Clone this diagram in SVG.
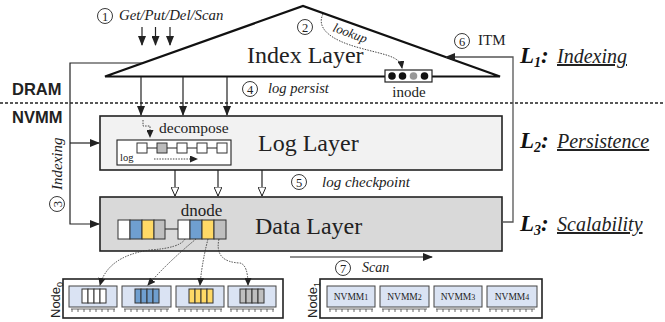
<svg xmlns="http://www.w3.org/2000/svg" width="665" height="322" viewBox="0 0 665 322">
<style>
  .serif { font-family: "Liberation Serif", "Times New Roman", serif; fill: #222; }
  .it { font-style: italic; }
  .sans { font-family: "Liberation Sans", Arial, sans-serif; fill: #222; }
  .big { font-size: 24px; }
  .circ { fill: none; stroke: #222; stroke-width: 0.9; }
  .num { font-family: "Liberation Serif", serif; font-size: 12.5px; fill: #222; text-anchor: middle; }
  .ln { stroke: #222; stroke-width: 1.2; fill: none; }
  .dot { stroke: #333; stroke-width: 0.9; fill: none; stroke-dasharray: 1.5 1.2; }
  .cell { stroke: #333; stroke-width: 1; }
  .mod { fill: #dae3f3; stroke: #444; stroke-width: 1; }
  .pins { stroke: #444; stroke-width: 0.8; fill: none; }
  .lbl { font-family: "Liberation Serif", serif; font-size: 23px; font-weight: bold; font-style: italic; fill: #111; }
  .goal { font-family: "Liberation Serif", serif; font-size: 20px; font-style: italic; fill: #222; text-decoration: underline; }
</style>
<defs>
  <marker id="ah" markerWidth="10" markerHeight="8" refX="9" refY="4" orient="auto" markerUnits="userSpaceOnUse">
    <path d="M0,0 L10,4 L0,8 z" fill="#222"/>
  </marker>
  <marker id="ahs" markerWidth="8" markerHeight="7" refX="7" refY="3.5" orient="auto" markerUnits="userSpaceOnUse">
    <path d="M0,0 L8,3.5 L0,7 z" fill="#222"/>
  </marker>
  <marker id="hollow" markerWidth="10" markerHeight="8" refX="9" refY="4" orient="auto" markerUnits="userSpaceOnUse">
    <path d="M0,0 L9,4 L0,8 z" fill="#fff" stroke="#222" stroke-width="1"/>
  </marker>
</defs>

<!-- memory tier labels and boundary -->
<g id="tiers">
  <text class="sans" x="12" y="95" font-size="16.5" font-weight="bold">DRAM</text>
  <text class="sans" x="12" y="123" font-size="16.5" font-weight="bold">NVMM</text>
  <line x1="0" y1="103" x2="665" y2="103" stroke="#222" stroke-width="1.6" stroke-dasharray="3 2"/>
</g>

<!-- index layer (DRAM) -->
<g id="index-layer">
  <polygon points="105,76.5 303,6 500,76.5" fill="#fff" stroke="#111" stroke-width="2.2" stroke-linejoin="miter"/>
  <text class="serif big" x="247" y="63">Index Layer</text>
  <circle class="circ" cx="305" cy="27" r="7.5"/>
  <text class="num" x="305" y="31.5">2</text>
  <text class="serif it" font-size="13" transform="translate(332,31) rotate(20)">lookup</text>
</g>

<g id="inode">
  <rect x="385" y="70" width="47" height="12" fill="#fff" stroke="#222" stroke-width="1.2"/>
  <circle cx="392" cy="76" r="3.8" fill="#111"/>
  <circle cx="402.5" cy="76" r="3.8" fill="#111"/>
  <circle cx="413.5" cy="76" r="3.8" fill="#999"/>
  <circle cx="424.5" cy="76" r="3.8" fill="#111"/>
  <text class="serif" x="409" y="97" font-size="15" text-anchor="middle">inode</text>
</g>

<!-- operations entering the index -->
<g id="ops">
  <circle class="circ" cx="105" cy="16" r="7.5"/>
  <text class="num" x="105" y="20.5">1</text>
  <text class="serif it" x="119" y="20" font-size="14.8">Get/Put/Del/Scan</text>
</g>

<!-- log layer -->
<g id="log-layer">
  <rect x="100" y="116" width="402" height="54" fill="#f2f2f2" stroke="#222" stroke-width="1.6"/>
  <text class="serif big" x="258" y="151">Log Layer</text>
  <text class="serif" x="159" y="133" font-size="15.5">decompose</text>
  <rect x="117" y="140" width="114" height="25" fill="#fff" stroke="#222" stroke-width="1.1"/>
  <line x1="147" y1="148" x2="217" y2="148" stroke="#222" stroke-width="1"/>
  <rect class="cell" x="137" y="143" width="10" height="10" fill="#fff"/>
  <rect class="cell" x="157" y="143" width="10" height="10" fill="#bbb"/>
  <rect class="cell" x="177" y="143" width="10" height="10" fill="#fff"/>
  <rect class="cell" x="197" y="143" width="10" height="10" fill="#fff"/>
  <rect class="cell" x="217" y="143" width="10" height="10" fill="#fff"/>
  <text class="serif" x="120" y="161" font-size="10.5">log</text>
  <path class="dot" d="M154,159 L197,159" marker-end="url(#ahs)"/>
  <path class="dot" d="M143,120 L143,126 L150,126 L150,137" marker-end="url(#ahs)"/>
</g>

<!-- data layer -->
<g id="data-layer">
  <rect x="100" y="197" width="402" height="54" fill="#d9d9d9" stroke="#222" stroke-width="1.6"/>
  <text class="serif big" x="255" y="234">Data Layer</text>
  <text class="serif" x="201.5" y="216" font-size="17" text-anchor="middle">dnode</text>
  <line x1="165" y1="229" x2="178" y2="229" stroke="#222" stroke-width="1"/>
  <rect class="cell" x="118" y="220" width="12" height="19" fill="#fff"/>
  <rect class="cell" x="130" y="220" width="12" height="19" fill="#6f9fd0"/>
  <rect class="cell" x="142" y="220" width="12" height="19" fill="#ffd966"/>
  <rect class="cell" x="154" y="220" width="11" height="19" fill="#bfbfbf"/>
  <rect class="cell" x="178" y="220" width="12" height="19" fill="#fff"/>
  <rect class="cell" x="190" y="220" width="12" height="19" fill="#6f9fd0"/>
  <rect class="cell" x="202" y="220" width="12" height="19" fill="#ffd966"/>
  <rect class="cell" x="214" y="220" width="12" height="19" fill="#bfbfbf"/>
</g>

<!-- numa node 0 with per-socket dimms -->
<g id="node0">
  <rect x="63" y="279" width="220" height="39" fill="#fff" stroke="#222" stroke-width="1.6"/>
  <text class="sans" font-size="13" transform="translate(60,318) rotate(-90)">Node<tspan font-size="9" dy="3">0</tspan></text>
  <g>
    <rect class="mod" x="69" y="286" width="48" height="21"/>
    <rect class="cell" x="82" y="289" width="6" height="14" fill="#fff"/>
    <rect class="cell" x="88" y="289" width="6" height="14" fill="#fff"/>
    <rect class="cell" x="94" y="289" width="6" height="14" fill="#fff"/>
    <rect class="cell" x="100" y="289" width="6" height="14" fill="#fff"/>
    <path class="pins" d="M71,309 H115 M72,309 v3 M78,309 v3 M84,309 v3 M90,309 v3 M96,309 v3 M102,309 v3 M108,309 v3 M114,309 v3"/>
  </g>
  <g>
    <rect class="mod" x="122" y="286" width="49" height="21"/>
    <rect class="cell" x="135" y="289" width="6" height="14" fill="#6f9fd0"/>
    <rect class="cell" x="141" y="289" width="6" height="14" fill="#6f9fd0"/>
    <rect class="cell" x="147" y="289" width="6" height="14" fill="#6f9fd0"/>
    <rect class="cell" x="153" y="289" width="6" height="14" fill="#6f9fd0"/>
    <path class="pins" d="M124,309 H169 M125,309 v3 M131,309 v3 M137,309 v3 M143,309 v3 M149,309 v3 M155,309 v3 M161,309 v3 M167,309 v3"/>
  </g>
  <g>
    <rect class="mod" x="176" y="286" width="48" height="21"/>
    <rect class="cell" x="189" y="289" width="6" height="14" fill="#ffd966"/>
    <rect class="cell" x="195" y="289" width="6" height="14" fill="#ffd966"/>
    <rect class="cell" x="201" y="289" width="6" height="14" fill="#ffd966"/>
    <rect class="cell" x="207" y="289" width="6" height="14" fill="#ffd966"/>
    <path class="pins" d="M178,309 H222 M179,309 v3 M185,309 v3 M191,309 v3 M197,309 v3 M203,309 v3 M209,309 v3 M215,309 v3 M221,309 v3"/>
  </g>
  <g>
    <rect class="mod" x="228" y="286" width="48" height="21"/>
    <rect class="cell" x="240" y="289" width="6" height="14" fill="#bfbfbf"/>
    <rect class="cell" x="246" y="289" width="6" height="14" fill="#bfbfbf"/>
    <rect class="cell" x="252" y="289" width="6" height="14" fill="#bfbfbf"/>
    <rect class="cell" x="258" y="289" width="6" height="14" fill="#bfbfbf"/>
    <path class="pins" d="M230,309 H274 M231,309 v3 M237,309 v3 M243,309 v3 M249,309 v3 M255,309 v3 M261,309 v3 M267,309 v3 M273,309 v3"/>
  </g>
</g>

<!-- numa node 1 -->
<g id="node1">
  <rect x="320" y="279" width="222" height="39" fill="#fff" stroke="#222" stroke-width="1.6"/>
  <text class="sans" font-size="13" transform="translate(317,318) rotate(-90)">Node<tspan font-size="9" dy="3">1</tspan></text>
  <rect class="mod" x="327" y="286" width="48" height="21"/>
  <rect class="mod" x="380" y="286" width="49" height="21"/>
  <rect class="mod" x="434" y="286" width="48" height="21"/>
  <rect class="mod" x="487" y="286" width="50" height="21"/>
  <text class="serif" x="351" y="300" font-size="9.5" text-anchor="middle">NVMM<tspan font-size="8">1</tspan></text>
  <text class="serif" x="404.5" y="300" font-size="9.5" text-anchor="middle">NVMM<tspan font-size="8">2</tspan></text>
  <text class="serif" x="458" y="300" font-size="9.5" text-anchor="middle">NVMM<tspan font-size="8">3</tspan></text>
  <text class="serif" x="512" y="300" font-size="9.5" text-anchor="middle">NVMM<tspan font-size="8">4</tspan></text>
  <path class="pins" d="M329,309 H373 M330,309 v3 M336,309 v3 M342,309 v3 M348,309 v3 M354,309 v3 M360,309 v3 M366,309 v3 M372,309 v3"/>
  <path class="pins" d="M382,309 H427 M383,309 v3 M389,309 v3 M395,309 v3 M401,309 v3 M407,309 v3 M413,309 v3 M419,309 v3 M425,309 v3"/>
  <path class="pins" d="M436,309 H480 M437,309 v3 M443,309 v3 M449,309 v3 M455,309 v3 M461,309 v3 M467,309 v3 M473,309 v3 M479,309 v3"/>
  <path class="pins" d="M489,309 H535 M490,309 v3 M496,309 v3 M502,309 v3 M508,309 v3 M514,309 v3 M520,309 v3 M526,309 v3 M532,309 v3"/>
</g>

<!-- design goals -->
<g id="goals">
  <text class="lbl" x="520" y="63">L<tspan font-size="14" dy="4">1</tspan><tspan dy="-4">:</tspan></text>
  <text class="goal" x="557" y="63">Indexing</text>
  <text class="lbl" x="520" y="148">L<tspan font-size="14" dy="4">2</tspan><tspan dy="-4">:</tspan></text>
  <text class="goal" x="557" y="148">Persistence</text>
  <text class="lbl" x="520" y="231">L<tspan font-size="14" dy="4">3</tspan><tspan dy="-4">:</tspan></text>
  <text class="goal" x="557" y="231">Scalability</text>
</g>

<!-- connectors -->
<g id="connectors">
  <!-- client requests -->
  <line class="ln" x1="142" y1="27" x2="142" y2="45" marker-end="url(#ah)"/>
  <line class="ln" x1="155.5" y1="27" x2="155.5" y2="45" marker-end="url(#ah)"/>
  <line class="ln" x1="170" y1="27" x2="170" y2="45" marker-end="url(#ah)"/>
  <!-- lookup -->
  <path class="dot" d="M323,14 C316,28 330,40 360,48 C385,55 400,56 402,68" marker-end="url(#ahs)"/>
  <!-- log persist -->
  <line class="ln" x1="141" y1="77" x2="141" y2="115" marker-end="url(#ah)"/>
  <line class="ln" x1="183" y1="77" x2="183" y2="115" marker-end="url(#ah)"/>
  <line class="ln" x1="227" y1="77" x2="227" y2="115" marker-end="url(#ah)"/>
  <circle class="circ" cx="250" cy="89" r="7.5"/>
  <text class="num" x="250" y="93.5">4</text>
  <text class="serif it" x="268" y="93" font-size="14.5">log persist</text>
  <!-- indexing path -->
  <path class="ln" d="M142,63 H70 V224 H99" marker-end="url(#ah)"/>
  <line class="ln" x1="70" y1="143" x2="99" y2="143" marker-end="url(#ah)"/>
  <g transform="translate(57,0)">
    <text class="serif it" font-size="15" transform="translate(5,190) rotate(-90)">Indexing</text>
    <circle class="circ" cx="0" cy="204" r="7.5"/>
    <text class="num" transform="translate(4.5,204) rotate(-90)">3</text>
  </g>
  <!-- log checkpoint -->
  <line class="ln" x1="175" y1="170" x2="175" y2="196" marker-end="url(#hollow)"/>
  <line class="ln" x1="218" y1="170" x2="218" y2="196" marker-end="url(#hollow)"/>
  <line class="ln" x1="262" y1="170" x2="262" y2="196" marker-end="url(#hollow)"/>
  <circle class="circ" cx="299" cy="182" r="7.5"/>
  <text class="num" x="299" y="186.5">5</text>
  <text class="serif it" x="322" y="187" font-size="15">log checkpoint</text>
  <!-- ITM -->
  <path d="M502,222 H513 V57 H446" stroke="#555" stroke-width="1.3" fill="none" marker-end="url(#ah)"/>
  <circle class="circ" cx="462" cy="41" r="7.5"/>
  <text class="num" x="462" y="45.5">6</text>
  <text class="serif" x="478" y="45" font-size="15">ITM</text>
  <!-- scan -->
  <line class="ln" x1="290" y1="257" x2="432" y2="257" marker-end="url(#ah)"/>
  <circle class="circ" cx="343" cy="268" r="7.5"/>
  <text class="num" x="343" y="272.5">7</text>
  <text class="serif it" x="362" y="272" font-size="14">Scan</text>
  <!-- dnode placement -->
  <path class="dot" d="M185,239 Q180,248 150,250 Q108,256 100,285" marker-end="url(#ahs)"/>
  <path class="dot" d="M196,239 Q168,262 148,285" marker-end="url(#ahs)"/>
  <path class="dot" d="M208,239 Q202,262 200,285" marker-end="url(#ahs)"/>
  <path class="dot" d="M219,239 Q214,262 240,263 Q248,265 248,285" marker-end="url(#ahs)"/>
</g>
</svg>
